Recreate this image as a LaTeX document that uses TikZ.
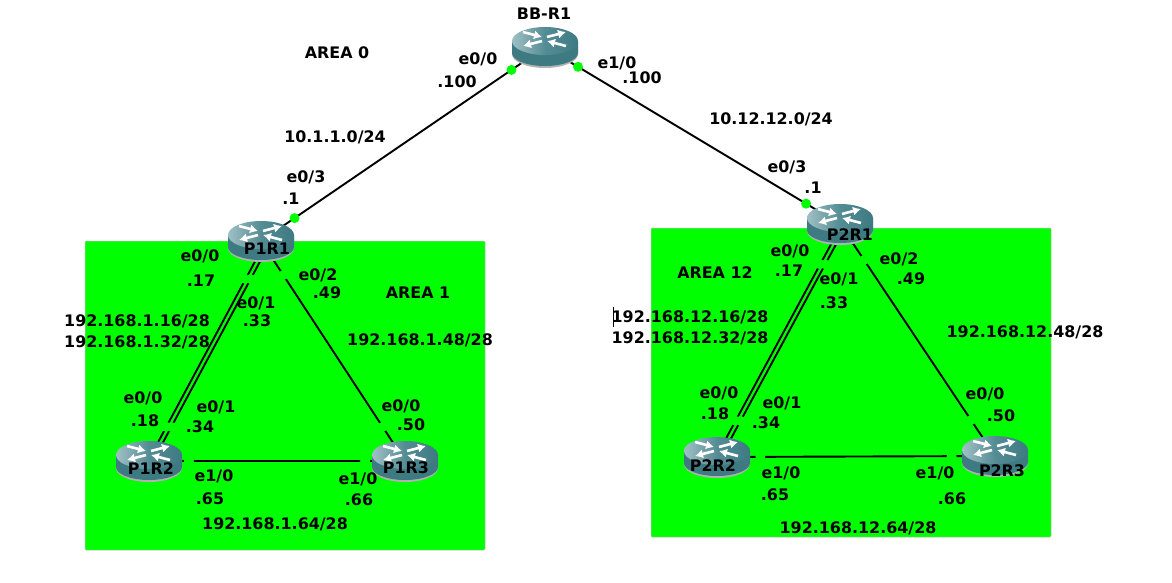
\documentclass[tikz,border=0pt]{standalone}
\usepackage{fontspec}
\setmainfont{DejaVu Sans}
\usepackage{xcolor}
\usetikzlibrary{arrows.meta,shapes.geometric}
\definecolor{areagreen}{RGB}{0,255,0}
\definecolor{routerdark}{RGB}{62,122,130}
\definecolor{routermid}{RGB}{84,140,148}
\definecolor{routerlight}{RGB}{160,192,196}
\tikzstyle{router}=[ellipse,minimum width=66pt,minimum height=40pt,inner sep=0pt]
\tikzstyle{wire}=[line width=1.9pt,black]
\tikzstyle{ifdot}=[circle,fill=areagreen,inner sep=0pt,minimum size=10pt]
\tikzstyle{lbl}=[font=\bfseries\fontsize{15.9pt}{15.9pt}\selectfont,inner sep=0pt,text=black]
\tikzstyle{area}=[fill=areagreen,draw=black!25,line width=0.5pt,rounded corners=1pt]
\tikzstyle{routerarrow}=[white,line width=2.6pt,-{Latex[length=8pt,width=9pt]}]
\tikzset{routericon/.pic={
  \fill[black!30] (-33,-5) -- (-33,7) arc (180:0:33 and 14) -- (33,-5) -- cycle;
  \fill[routerdark] (-33,-6) -- (-33,6) arc (180:0:33 and 13) -- (33,-6) -- cycle;
  \shade[left color=routerlight,right color=routerdark,middle color=routermid] (0,-6) ellipse (33 and 14);
  \draw[routerarrow] (-22,-15) -- (-3,-10);
  \draw[routerarrow] (2,-10) -- (21,-15);
  \draw[routerarrow] (-3,-6) -- (-22,-1);
  \draw[routerarrow] (21,-1) -- (2,-6);
}}

\begin{document}
\begin{tikzpicture}[x=1pt,y=-1pt]
        \useasboundingbox (0,0) rectangle (1172,582);
        % areas
        \filldraw[area] (85,241) rectangle (485,550);
        \filldraw[area] (651,228) rectangle (1051,537);
        % routers
        \node at (545,47) [router] (BBR1) {};
        \node at (261,241) [router] (P1R1) {};
        \node at (149,461) [router] (P1R2) {};
        \node at (405,461) [router] (P1R3) {};
        \node at (840,224) [router] (P2R1) {};
        \node at (717,457) [router] (P2R2) {};
        \node at (995,456) [router] (P2R3) {};
        % links
        \draw[wire] (BBR1.center) -- node[ifdot,pos=.118] (d1) {} node[ifdot,pos=.882] (d2) {} (P1R1.center);
        \draw[wire] (BBR1.center) -- node[ifdot,pos=.112] (d3) {} node[ifdot,pos=.885] (d4) {} (P2R1.center);
        \draw[wire] ([xshift=5pt]P1R1.center) -- node[ifdot,pos=.173] (d5) {} node[ifdot,pos=.845] (d6) {} ([xshift=-1pt]P1R2.center);
        \draw[wire] ([xshift=10pt]P1R1.center) -- node[ifdot,pos=.173] (d7) {} node[ifdot,pos=.845] (d8) {} ([xshift=4pt]P1R2.center);
        \draw[wire] (P1R1.center) -- node[ifdot,pos=.155] (d9) {} node[ifdot,pos=.845] (d10) {} (P1R3.center);
        \draw[wire] (P1R2.center) -- node[ifdot,pos=.156] (d11) {} node[ifdot,pos=.844] (d12) {} (P1R3.center);
        \draw[wire] ([xshift=2pt]P2R1.center) -- node[ifdot,pos=.173] (d13) {} node[ifdot,pos=.845] (d14) {} ([xshift=-1pt]P2R2.center);
        \draw[wire] ([xshift=7pt]P2R1.center) -- node[ifdot,pos=.173] (d15) {} node[ifdot,pos=.845] (d16) {} ([xshift=4pt]P2R2.center);
        \draw[wire] (P2R1.center) -- node[ifdot,pos=.155] (d17) {} node[ifdot,pos=.845] (d18) {} (P2R3.center);
        \draw[wire] (P2R2.center) -- node[ifdot,pos=.156] (d19) {} node[ifdot,pos=.844] (d20) {} (P2R3.center);
        % router icons
        \pic at (BBR1) {routericon};
        \pic at (P1R1) {routericon};
        \pic at (P1R2) {routericon};
        \pic at (P1R3) {routericon};
        \pic at (P2R1) {routericon};
        \pic at (P2R2) {routericon};
        \pic at (P2R3) {routericon};
        % top labels
        \node at (337,53) [lbl] (area0) {AREA 0};
        \node at (544,14) [lbl] (nameBB) {BB-R1};
        \node at (478,59) [lbl] (bb1) {e0/0};
        \node at (457,82) [lbl] (bb2) {.100};
        \node at (617,63) [lbl] (bb3) {e1/0};
        \node at (642,78) [lbl] (bb4) {.100};
        \node at (335,137) [lbl] (net1) {10.1.1.0/24};
        \node at (771,119) [lbl] (net2) {10.12.12.0/24};
        % area 1
        \node at (306,177) [lbl] (a1) {e0/3};
        \node at (291,199) [lbl] (a2) {.1};
        \node at (267,249) [lbl] (nameP1R1) {P1R1};
        \node at (200,256) [lbl] (a3) {e0/0};
        \node at (201,281) [lbl] (a4) {.17};
        \node at (318,275) [lbl] (a5) {e0/2};
        \node at (327,293) [lbl] (a6) {.49};
        \node at (418,293) [lbl] (area1) {AREA 1};
        \node at (256,303) [lbl] (a7) {e0/1};
        \node at (257,321) [lbl] (a8) {.33};
        \node at (137,321) [lbl] (a9) {192.168.1.16/28};
        \node at (137,342) [lbl] (a10) {192.168.1.32/28};
        \node at (420,340) [lbl] (a11) {192.168.1.48/28};
        \node at (143,398) [lbl] (a12) {e0/0};
        \node at (145,421) [lbl] (a13) {.18};
        \node at (216,407) [lbl] (a14) {e0/1};
        \node at (200,427) [lbl] (a15) {.34};
        \node at (401,406) [lbl] (a16) {e0/0};
        \node at (411,425) [lbl] (a17) {.50};
        \node at (151,469) [lbl] (nameP1R2) {P1R2};
        \node at (406,468) [lbl] (nameP1R3) {P1R3};
        \node at (214,476) [lbl] (a18) {e1/0};
        \node at (210,499) [lbl] (a19) {.65};
        \node at (358,479) [lbl] (a20) {e1/0};
        \node at (359,500) [lbl] (a21) {.66};
        \node at (275,524) [lbl] (a22) {192.168.1.64/28};
        % area 12
        \node at (787,167) [lbl] (b1) {e0/3};
        \node at (813,188) [lbl] (b2) {.1};
        \node at (850,235) [lbl] (nameP2R1) {P2R1};
        \node at (790,251) [lbl] (b3) {e0/0};
        \node at (789,271) [lbl] (b4) {.17};
        \node at (715,273) [lbl] (area12) {AREA 12};
        \node at (839,279) [lbl] (b5) {e0/1};
        \node at (834,303) [lbl] (b6) {.33};
        \node at (899,259) [lbl] (b7) {e0/2};
        \node at (911,279) [lbl] (b8) {.49};
        \node at (690,317) [lbl] (b9) {192.168.12.16/28};
        \node at (690,338) [lbl] (b10) {192.168.12.32/28};
        \node at (1025,332) [lbl] (b11) {192.168.12.48/28};
        \node at (719,393) [lbl] (b12) {e0/0};
        \node at (715,414) [lbl] (b13) {.18};
        \node at (782,403) [lbl] (b14) {e0/1};
        \node at (766,423) [lbl] (b15) {.34};
        \node at (985,394) [lbl] (b16) {e0/0};
        \node at (1001,416) [lbl] (b17) {.50};
        \node at (713,466) [lbl] (nameP2R2) {P2R2};
        \node at (1002,471) [lbl] (nameP2R3) {P2R3};
        \node at (781,473) [lbl] (b18) {e1/0};
        \node at (775,495) [lbl] (b19) {.65};
        \node at (935,473) [lbl] (b20) {e1/0};
        \node at (952,499) [lbl] (b21) {.66};
        \node at (858,528) [lbl] (b22) {192.168.12.64/28};
        % text cursor
        \coordinate (curtop) at (613,307);
        \coordinate (curbot) at (613,327);
        \draw[black,line width=0.8pt] (curtop) -- (curbot);
      \end{tikzpicture}
\end{document}
